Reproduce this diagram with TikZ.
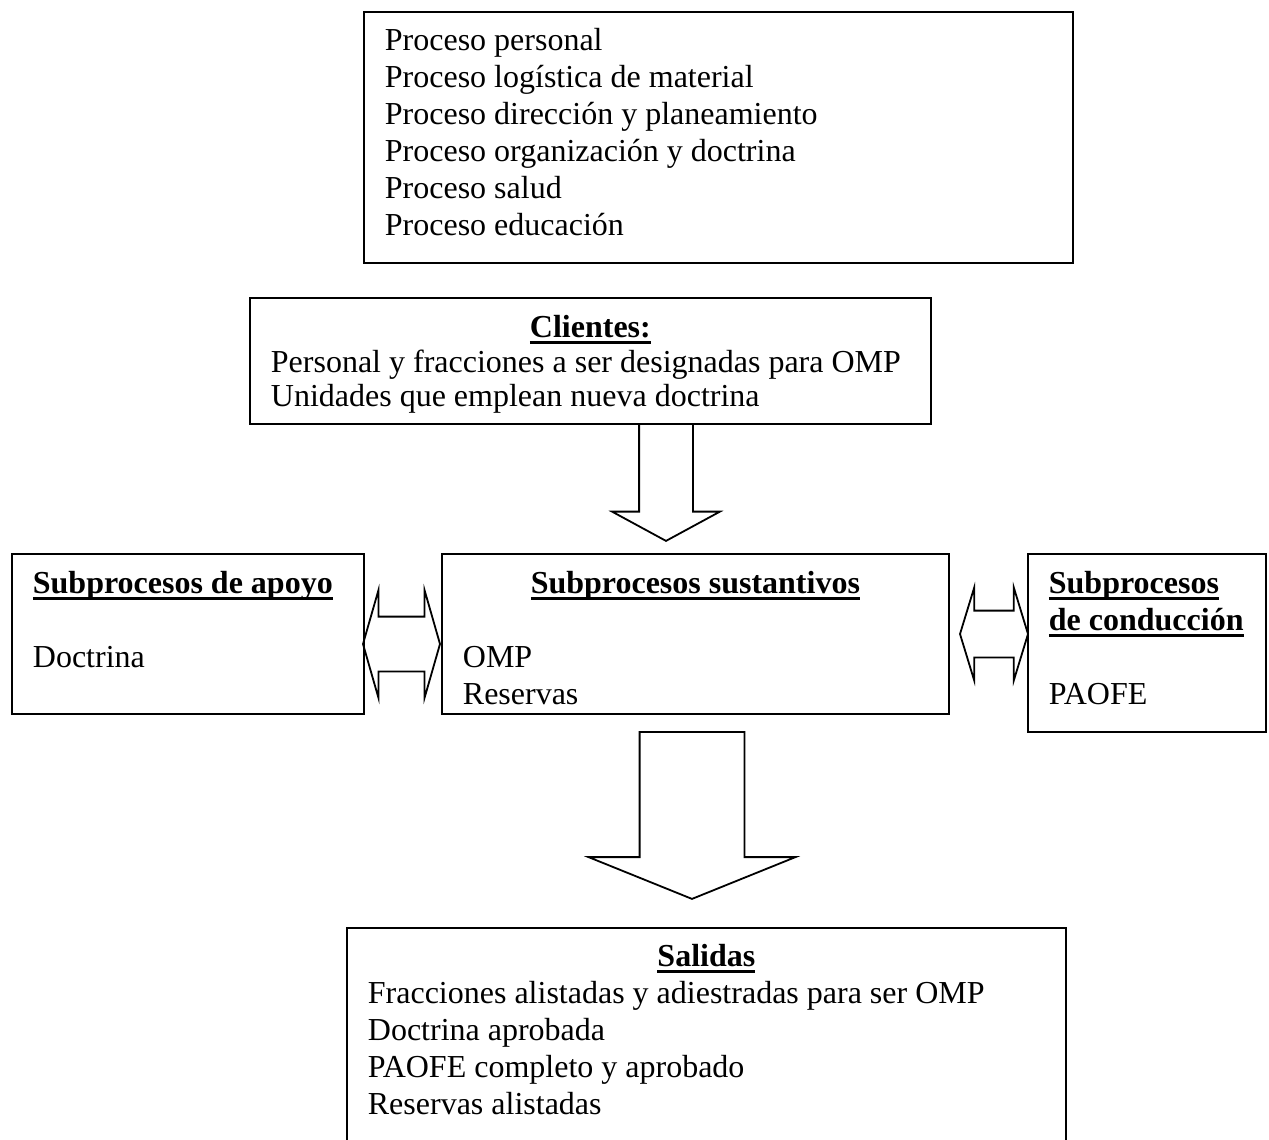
\documentclass[tikz,border=0pt]{standalone}
\usepackage{fontspec}
\setmainfont{Liberation Serif}
\usepackage{tikz}
\usetikzlibrary{shapes.arrows,positioning,calc}

\tikzset{
    box/.style={draw, rectangle, line width=1.8pt, anchor=north west, inner xsep=21pt, inner ysep=0pt, align=flush left, font=\fontsize{32}{37}\selectfont},
    downarrow/.style={draw, single arrow, line width=1.8pt, shape border rotate=270, anchor=tail},
    twoarrow/.style={draw, double arrow, line width=1.8pt, inner xsep=0pt}
}
\newsavebox{\headbox}
\newcommand{\headl}[1]{\sbox{\headbox}{\textbf{#1}}\mbox{\rlap{\rule[-6pt]{\wd\headbox}{3pt}}\usebox{\headbox}}}
\newcommand{\headc}[1]{\makebox[\linewidth][c]{\headl{#1}}}
% invisible rule: height #1, depth #2
\newcommand{\vfix}[2]{\rule[-#2]{0pt}{\dimexpr#1+#2\relax}}

\begin{document}
\begin{tikzpicture}[x=1pt, y=-1pt]
    \useasboundingbox (0,0) rectangle (1269,1140);
    % boxes
    \node[box, text width=667pt, minimum height=251pt] (proc) at (363,11) {\vfix{25.9pt}{0pt}Proceso personal\\ Proceso logística de material\\ Proceso dirección y planeamiento\\ Proceso organización y doctrina\\ Proceso salud\\ Proceso educación\vfix{0pt}{13.9pt}};
    \node[box, text width=639pt, minimum height=126pt, font=\fontsize{32}{34.5}\selectfont] (cli) at (249,297) {\vfix{30pt}{0pt}\headc{Clientes:}\\ \mbox{Personal y fracciones a ser designadas para OMP}\\ \mbox{Unidades que emplean nueva doctrina}\vfix{0pt}{7pt}};
    \node[box, text width=310pt, minimum height=160pt] (apoyo) at (11,553) {\vfix{25.9pt}{0pt}\headl{Subprocesos de apoyo}\\ \strut\\ Doctrina\vfix{0pt}{31.9pt}};
    \node[box, text width=465pt, minimum height=160pt] (sust) at (441,553) {\vfix{31pt}{0pt}\headc{Subprocesos sustantivos}\\ \strut\\ OMP\\ Reservas};
    \node[box, text width=196pt, minimum height=178pt] (cond) at (1027,553) {\vfix{25.9pt}{0pt}\headl{Subprocesos}\\ \headl{de conducción}\\ \strut\\ PAOFE\vfix{0pt}{12.9pt}};
    \node[box, text width=677pt, minimum height=233pt] (sal) at (346,927) {\vfix{25.9pt}{0pt}\headc{Salidas}\\ \mbox{Fracciones alistadas y adiestradas para ser OMP}\\ Doctrina aprobada\\ PAOFE completo y aprobado\\ Reservas alistadas\vfix{0pt}{32.9pt}};
    % block arrows
    \node[downarrow, inner sep=26pt, minimum height=117pt, minimum width=106pt, single arrow head extend=27pt, single arrow tip angle=123] (a1) at (666,423) {};
    \node[downarrow, inner sep=51.5pt, minimum height=167pt, minimum width=205pt, single arrow head extend=51pt, single arrow tip angle=136] (a2) at (692,731) {};
    \node[twoarrow, inner ysep=26.5pt, minimum height=77pt, minimum width=106pt, double arrow head extend=26.5pt, double arrow tip angle=148] (a3) at (401.5,644) {};
    \node[twoarrow, inner ysep=22.5pt, minimum height=68pt, minimum width=92pt, double arrow head extend=23pt, double arrow tip angle=146] (a4) at (994,634) {};
\end{tikzpicture}
\end{document}
